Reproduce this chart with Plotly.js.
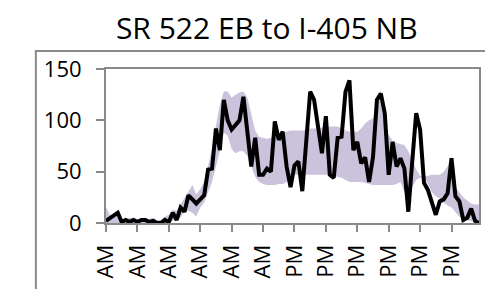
<!DOCTYPE html>
<html><head><meta charset="utf-8">
<script src="https://cdn.plot.ly/plotly-3.0.1.min.js"></script>
<style>html,body{margin:0;padding:0;background:#fff;}#chart{width:485px;height:289px;}</style>
</head><body><div id="chart"></div>
<script>
const chartTitle = "SR 522 EB to I-405 NB";
const tickLabels = ["AM","AM","AM","AM","AM","AM","PM","PM","PM","PM","PM","PM"];
const tickIdx = [0,8,16,24,32,40,48,56,64,72,80,88];
const actual = [2,5,7,10,1,3,1,3,1,3,3,1,2,0,0,3,1,10,3,15,11,27,23,19,23,27,52,53,92,71,120,100,91,95,100,123,87,55,83,47,47,53,50,99,81,89,55,35,56,60,31,79,128,120,95,68,104,47,44,83,84,128,139,71,79,58,64,40,64,120,126,107,47,79,55,63,53,11,60,107,91,39,32,19,8,21,23,29,63,26,21,3,5,14,2,0];
const bandHigh = [15,8,6,10,4,4,5,5,4,4,5,4,5,3,3,6,8,13,12,18,25,30,37,28,33,40,55,72,95,115,128,128,122,125,127,128,122,105,90,84,83,82,83,85,87,88,89,90,90,90,90,91,92,92,92,93,94,94,94,94,92,90,89,89,89,92,97,100,102,112,130,100,86,80,78,77,76,70,60,52,46,45,46,47,47,47,50,55,65,35,30,25,22,19,18,18];
const bandLow = [0,0,0,0,0,0,0,0,0,0,0,0,0,0,0,0,0,2,5,5,12,12,10,6,15,20,30,40,55,70,88,85,72,68,70,70,65,55,45,40,38,37,37,37,38,38,40,44,47,47,47,47,47,47,47,47,47,46,46,45,44,42,40,40,40,40,39,38,37,37,37,37,37,37,38,40,30,28,35,42,44,44,38,30,26,24,20,17,15,10,6,4,3,2,1,2];

const xs = actual.map((_, i) => i);
const gray = "#8a8a8a";
const fontFam = "Open Sans, sans-serif";

const traces = [
  {x: xs, y: bandLow, type: "scatter", mode: "lines", line: {width: 0, color: "rgba(0,0,0,0)"}, hoverinfo: "skip", showlegend: false},
  {x: xs, y: bandHigh, type: "scatter", mode: "lines", line: {width: 0, color: "rgba(0,0,0,0)"}, fill: "tonexty", fillcolor: "#cbc2dc", showlegend: false},
  {x: xs, y: actual, type: "scatter", mode: "lines", line: {width: 4, color: "#000000"}, showlegend: false}
];

const layout = {
  width: 485, height: 289,
  margin: {l: 106, r: 6, t: 69, b: 66, pad: 0},
  paper_bgcolor: "#ffffff", plot_bgcolor: "#ffffff",
  title: {text: chartTitle, font: {family: fontFam, size: 30, color: "#000"}, x: 0.55, xanchor: "center", y: 0.9, yanchor: "middle"},
  xaxis: {
    range: [0, 95], tickmode: "array", tickvals: tickIdx, ticktext: tickLabels,
    tickangle: -90, ticks: "outside", ticklen: 7, tickwidth: 2, tickcolor: gray,
    showline: true, linecolor: gray, linewidth: 2, mirror: true,
    showgrid: false, zeroline: false, automargin: false,
    ticklabelstandoff: 4,
    tickfont: {family: fontFam, size: 22, color: "#000"}
  },
  yaxis: {
    range: [0, 150], tickvals: [0, 50, 100, 150], ticks: "outside", ticklen: 8, tickwidth: 2, tickcolor: gray,
    showline: true, linecolor: gray, linewidth: 2, mirror: true,
    showgrid: false, zeroline: false, automargin: false,
    ticklabelstandoff: 10,
    tickfont: {family: fontFam, size: 22, color: "#000"}
  },
  shapes: [
    {type: "rect", xref: "paper", yref: "paper", x0: -0.188, x1: 1.05, y0: -0.6, y1: 1.117, line: {color: gray, width: 2}, fillcolor: "rgba(0,0,0,0)", layer: "below"}
  ]
};

Plotly.newPlot("chart", traces, layout, {displayModeBar: false, staticPlot: true});
</script></body></html>
